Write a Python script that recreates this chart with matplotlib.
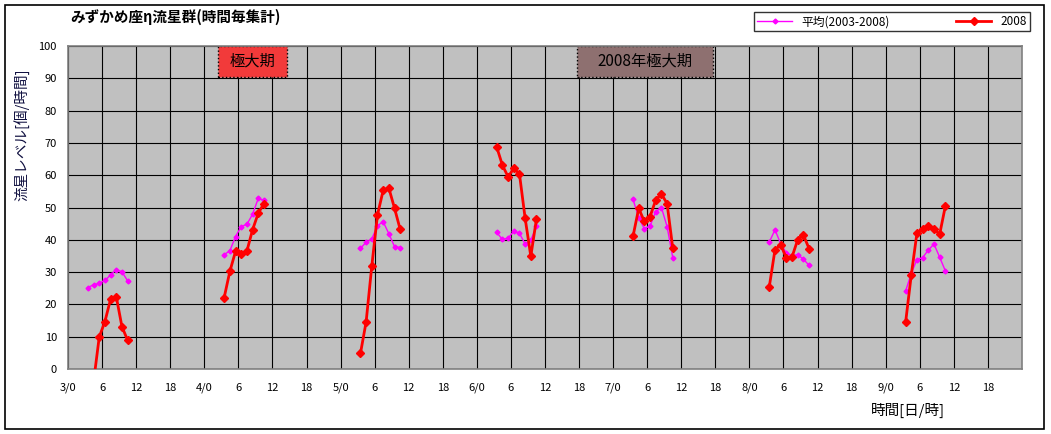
import numpy as np
import matplotlib
matplotlib.use("Agg")
import matplotlib.pyplot as plt
from matplotlib.patches import Rectangle

plt.rcParams['font.family'] = ['Noto Sans CJK JP', 'DejaVu Sans']

# observed days (May) and hour-of-day bins
days = [3, 4, 5, 6, 7, 8, 9]
obs_hours = [3, 4, 5, 6, 7, 8, 9, 10]

# 平均(2003-2008)
avg_d3 = [25.2, 26.1, 26.5, 27.4, 29.1, 30.8, 30.1, 27.3]
avg_d4 = [35.4, 36.6, 41.0, 44.1, 44.8, 47.9, 52.8, 52.2]
avg_d5 = [37.4, 39.2, 40.3, 44.4, 45.6, 41.9, 37.9, 37.6]
avg_d6 = [42.3, 40.1, 40.5, 42.7, 42.0, 38.7, 39.9, 44.2]
avg_d7 = [52.5, 46.9, 43.4, 44.3, 48.7, 50.0, 44.1, 34.5]
avg_d8 = [39.3, 43.1, 38.8, 35.9, 35.1, 35.4, 34.0, 32.1]
avg_d9 = [24.1, 29.6, 33.9, 34.5, 36.8, 38.7, 34.6, 30.4]

# 2008
y08_d3 = [np.nan, -4.0, 9.9, 14.7, 21.6, 22.4, 13.1, 8.9]
y08_d4 = [22.1, 30.2, 36.4, 35.6, 36.5, 43.1, 48.2, 51.2]
y08_d5 = [4.8, 14.6, 31.9, 47.7, 55.3, 56.0, 49.8, 43.2]
y08_d6 = [68.7, 63.1, 59.5, 62.1, 60.4, 46.7, 34.9, 46.5]
y08_d7 = [41.1, 49.7, 45.7, 47.2, 52.3, 54.2, 51.2, 37.4]
y08_d8 = [25.5, 36.9, 38.5, 34.4, 34.7, 40.0, 41.5, 37.3]
y08_d9 = [14.4, 29.1, 42.1, 43.3, 44.2, 43.4, 41.7, 50.4]

avg_all = [avg_d3, avg_d4, avg_d5, avg_d6, avg_d7, avg_d8, avg_d9]
y08_all = [y08_d3, y08_d4, y08_d5, y08_d6, y08_d7, y08_d8, y08_d9]

# x tick labels, every 6 hours from 3/0
tick_labels = []
for d in days:
    tick_labels += [f"{d}/0", "6", "12", "18"]

# peak periods (hours from 3/0)
peak_span = (26.5, 38.5)
peak08_span = (89.7, 113.5)

W, H = 1051, 434
fig = plt.figure(figsize=(W / 100, H / 100), dpi=100)
fig.patch.set_facecolor('white')
fig.add_artist(Rectangle((5 / W, 5 / H), 1039 / W, 424 / H, transform=fig.transFigure,
                         fill=False, edgecolor='black', linewidth=1.2))

ax = fig.add_axes([68 / W, (H - 369) / H, (1022 - 68) / W, (369 - 46) / H])
ax.set_facecolor('#c0c0c0')
ax.set_xlim(0, 168)
ax.set_ylim(0, 100)
ax.set_xticks(np.arange(0, 168, 6))
ax.set_xticklabels(tick_labels, fontsize=8)
ax.set_yticks(np.arange(0, 101, 10))
ax.tick_params(axis='both', length=0, labelsize=8)
ax.tick_params(axis='x', pad=10)
ax.tick_params(axis='y', pad=8)
ax.grid(True, color='black', linewidth=0.8)
ax.set_axisbelow(True)
for s in ax.spines.values():
    s.set_color('#808080')
    s.set_linewidth(1.2)

for i, d in enumerate(days):
    x = [(d - 3) * 24 + h + 0.5 for h in obs_hours]
    ax.plot(x, avg_all[i], color='#ff00ff', linewidth=1, marker='D', markersize=2.5,
            label='平均(2003-2008)' if i == 0 else None, zorder=3)
    ax.plot(x, y08_all[i], color='#ff0000', linewidth=2, marker='D', markersize=4,
            label='2008' if i == 0 else None, zorder=4)

# peak boxes
ax.add_patch(Rectangle((peak_span[0], 90.3), peak_span[1] - peak_span[0], 9.7,
                       facecolor='#f23a3a', edgecolor='black', linestyle=':', linewidth=1, zorder=2))
ax.text(sum(peak_span) / 2, 95.2, '極大期', ha='center', va='center', fontsize=11, zorder=5)
ax.add_patch(Rectangle((peak08_span[0], 90.3), peak08_span[1] - peak08_span[0], 9.7,
                       facecolor='#8e7070', edgecolor='black', linestyle=':', linewidth=1, zorder=2))
ax.text(sum(peak08_span) / 2, 95.2, '2008年極大期', ha='center', va='center', fontsize=11, zorder=5)

fig.text(70 / W, 1 - 17 / H, 'みずかめ座η流星群(時間毎集計)', fontsize=10.5, fontweight='bold',
         ha='left', va='center')
fig.text(21 / W, 1 - 135 / H, '流星レベル[個/時間]', fontsize=10.5, rotation=90,
         ha='center', va='center', color='#101040')
fig.text(908 / W, 1 - 410 / H, '時間[日/時]', fontsize=10.5, ha='center', va='center')

leg = fig.legend(loc='lower left', bbox_to_anchor=(754 / W, 1 - 31 / H, 276 / W, 23 / H),
                 mode='expand', ncol=2, fontsize=8.5, frameon=True, fancybox=False,
                 borderaxespad=0, handlelength=3, borderpad=0.25, columnspacing=1.5)
leg.get_frame().set_edgecolor('black')
leg.get_frame().set_linewidth(1)

fig.savefig('out.png', dpi=100)
